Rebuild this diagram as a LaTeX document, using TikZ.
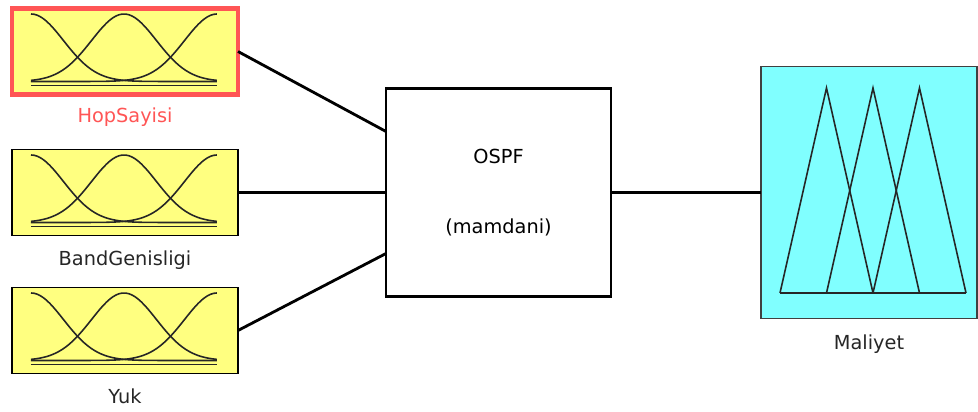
\documentclass[tikz,border=0pt]{standalone}
\usepackage{fontspec}
\setmainfont{DejaVu Sans}
\usetikzlibrary{positioning,calc}
\definecolor{fisyellow}{RGB}{255,255,128}
\definecolor{fisred}{RGB}{255,85,85}
\definecolor{fiscyan}{RGB}{128,255,255}
\tikzset{inbox/.style={draw, line width=1pt, fill=fisyellow, minimum width=4.52cm, minimum height=1.72cm, inner sep=0, outer sep=0}}
\tikzset{selbox/.style={inbox, draw=fisred, line width=2.8pt}}
\tikzset{rulebox/.style={draw, line width=1.5pt, fill=white, minimum width=4.5cm, minimum height=4.16cm, align=center, outer sep=0}}
\tikzset{outbox/.style={draw=black!75, line width=1pt, fill=fiscyan, minimum width=4.32cm, minimum height=5.04cm, outer sep=0}}
\tikzset{mf/.style={line width=0.9pt, draw=black!85}}
\tikzset{wire/.style={draw, line width=1.6pt}}
\tikzset{varname/.style={anchor=base, text=black!85}}

\begin{document}
\begin{tikzpicture}[font=\fontsize{11}{13}\selectfont]
	\useasboundingbox (0,0) rectangle (19.56,-8.24);
	\node[inbox] (band) at (2.5,-3.85) {};
	\node[selbox, above=1.1 of band] (hop) {};
	\node[inbox, below=1.04 of band] (yuk) {};
	\node[rulebox, right=2.96 of band] (ospf) {OSPF\\[0.95cm](mamdani)};
	\node[outbox, right=3.0 of ospf] (maliyet) {};
	%
	\node[below=0.56 of hop.south, varname, text=fisred] (hoplbl) {HopSayisi};
	\node[below=0.60 of band.south, varname] (bandlbl) {BandGenisligi};
	\node[below=0.60 of yuk.south, varname] (yuklbl) {Yuk};
	\node[below=0.62 of maliyet.south, varname] (maliyetlbl) {Maliyet};
	%
	\draw[wire] (hop.east) -- ([yshift=1.22cm]ospf.west);
	\draw[wire] (band.east) -- (ospf.west);
	\draw[wire] (yuk.east) -- ([yshift=-1.22cm]ospf.west);
	\draw[wire] (ospf.east) -- (maliyet.west);
	% gaussian inputs
	\foreach \b in {hop,band,yuk}{
		\begin{scope}[shift={(\b.center)}]
			\draw[mf] (-1.88,-0.68) -- (1.84,-0.68);
			\draw[mf, domain=0:1, samples=60] plot ({-1.88+3.72*\x},{-0.60+1.35*exp(-(\x*\x)/0.061)});
			\draw[mf, domain=0:1, samples=60] plot ({-1.88+3.72*\x},{-0.60+1.35*exp(-((\x-0.5)*(\x-0.5))/0.061)});
			\draw[mf, domain=0:1, samples=60] plot ({-1.88+3.72*\x},{-0.60+1.35*exp(-((\x-1)*(\x-1))/0.061)});
		\end{scope}
	}
	% triangular output
	\begin{scope}[shift={(maliyet.center)}]
		\draw[mf] (-1.78,-2.01) -- (1.94,-2.01);
		\foreach \k in {0,1,2}
			\draw[mf] ({-1.78+0.93*\k},-2.01) -- ({-0.85+0.93*\k},2.09) -- ({0.08+0.93*\k},-2.01);
	\end{scope}
\end{tikzpicture}
\end{document}
